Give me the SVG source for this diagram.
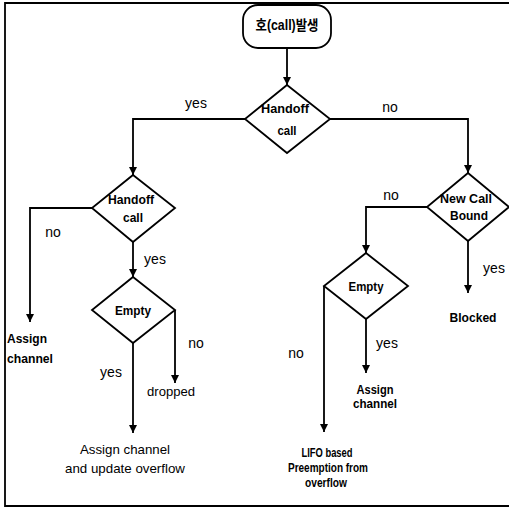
<svg xmlns="http://www.w3.org/2000/svg" width="509" height="508" viewBox="0 0 509 508">
<defs>
<marker id="ah" markerWidth="8" markerHeight="10" refX="8" refY="4" orient="auto" markerUnits="userSpaceOnUse">
<path d="M0,0 L8,4 L0,8 Z" fill="#000"/>
</marker>
<style>
.shape{fill:#fff;stroke:#000;stroke-width:1.8}
.conn path{fill:none;stroke:#000;stroke-width:1.8;marker-end:url(#ah)}
.frame{fill:none;stroke:#000;stroke-width:1.8}
text{font-family:"Liberation Sans","Noto Sans CJK KR",Arial,sans-serif;fill:#000;text-anchor:middle;dominant-baseline:central}
.n{font-size:13px;font-weight:bold}
.l{font-size:14px}
.r{font-size:13px}
.ko{font-size:14px;font-weight:bold}
</style>
</defs>
<path class="frame" d="M509,3 L5,3 L5,506 L509,506"/>
<g id="start">
<rect class="shape" x="243" y="5" width="88" height="43" rx="15"/>
<text class="ko" x="287" y="25" textLength="63" lengthAdjust="spacingAndGlyphs">호(call)발생</text>
</g>
<g id="d-handoff1">
<polygon class="shape" points="287,85 330,119 287,153 245,119"/>
<text class="n" x="285" y="108" textLength="48" lengthAdjust="spacingAndGlyphs">Handoff</text>
<text class="n" x="287" y="130" textLength="19" lengthAdjust="spacingAndGlyphs">call</text>
</g>
<g id="d-handoff2">
<polygon class="shape" points="133,175 175,208 133,242 92,208"/>
<text class="n" x="131" y="199" textLength="46" lengthAdjust="spacingAndGlyphs">Handoff</text>
<text class="n" x="133" y="217" textLength="20" lengthAdjust="spacingAndGlyphs">call</text>
</g>
<g id="d-newcall">
<polygon class="shape" points="468,173 509,207 468,241 427,207"/>
<text class="n" x="466" y="198" textLength="52" lengthAdjust="spacingAndGlyphs">New Call</text>
<text class="n" x="469" y="215" textLength="38" lengthAdjust="spacingAndGlyphs">Bound</text>
</g>
<g id="d-empty-left">
<polygon class="shape" points="133,277 175,310 133,343 92,310"/>
<text class="n" x="133" y="310" textLength="36" lengthAdjust="spacingAndGlyphs">Empty</text>
</g>
<g id="d-empty-right">
<polygon class="shape" points="366,253 408,286 366,319 324,286"/>
<text class="n" x="366" y="286" textLength="35" lengthAdjust="spacingAndGlyphs">Empty</text>
</g>
<g id="r-assign-left">
<text class="n" x="7" y="338" style="text-anchor:start" textLength="40" lengthAdjust="spacingAndGlyphs">Assign</text>
<text class="n" x="7" y="358" style="text-anchor:start" textLength="46" lengthAdjust="spacingAndGlyphs">channel</text>
</g>
<g id="r-dropped">
<text class="r" x="171" y="391" textLength="48" lengthAdjust="spacingAndGlyphs">dropped</text>
</g>
<g id="r-assign-update">
<text class="r" x="125" y="449" textLength="90" lengthAdjust="spacingAndGlyphs">Assign channel</text>
<text class="r" x="125" y="468" textLength="120" lengthAdjust="spacingAndGlyphs">and update overflow</text>
</g>
<g id="r-blocked">
<text class="n" x="473" y="317" textLength="47" lengthAdjust="spacingAndGlyphs">Blocked</text>
</g>
<g id="r-assign-right">
<text class="n" x="375" y="389" textLength="37" lengthAdjust="spacingAndGlyphs">Assign</text>
<text class="n" x="375" y="403" textLength="44" lengthAdjust="spacingAndGlyphs">channel</text>
</g>
<g id="r-lifo">
<text class="n" x="327" y="452" textLength="51" lengthAdjust="spacingAndGlyphs">LIFO based</text>
<text class="n" x="328" y="467" textLength="80" lengthAdjust="spacingAndGlyphs">Preemption from</text>
<text class="n" x="326" y="482" textLength="42" lengthAdjust="spacingAndGlyphs">overflow</text>
</g>
<g class="conn" id="connectors">
<path d="M287,48 L287,85"/>
<path d="M245,119 L133,119 L133,175"/>
<path d="M330,119 L468,119 L468,173"/>
<path d="M92,208 L30,208 L30,322"/>
<path d="M133,242 L133,277"/>
<path d="M175,310 L175,383"/>
<path d="M133,343 L133,433"/>
<path d="M427,207 L366,207 L366,253"/>
<path d="M468,241 L468,293"/>
<path d="M366,319 L366,373"/>
<path d="M324,286 L324,432"/>
</g>
<g id="labels">
<text class="l" x="196" y="103">yes</text>
<text class="l" x="390" y="107">no</text>
<text class="l" x="53" y="232">no</text>
<text class="l" x="155" y="259">yes</text>
<text class="l" x="196" y="343">no</text>
<text class="l" x="111" y="372">yes</text>
<text class="l" x="391" y="195">no</text>
<text class="l" x="494" y="268">yes</text>
<text class="l" x="387" y="343">yes</text>
<text class="l" x="296" y="353">no</text>
</g>
</svg>
